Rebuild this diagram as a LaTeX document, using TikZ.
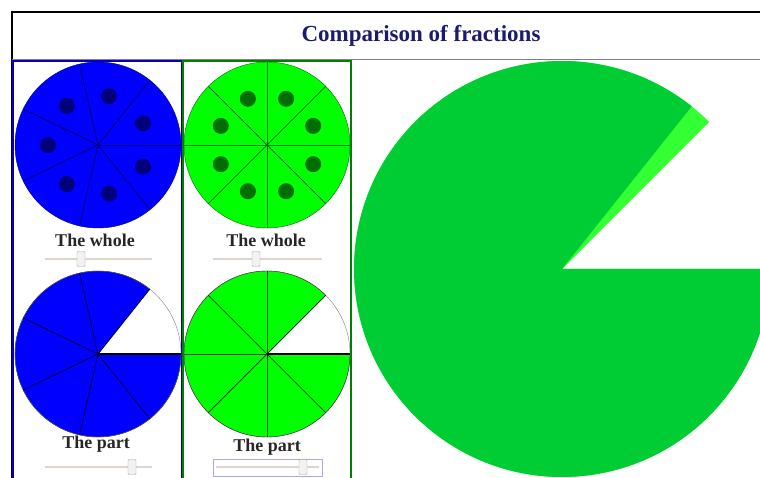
\documentclass[tikz,border=0pt]{standalone}
\usepackage{fontspec}
\setmainfont{Liberation Serif}
\usetikzlibrary{
  calc  % 坐标计算
}
\definecolor{titleblue}{HTML}{1A1A6E}
\definecolor{pieblue}{HTML}{0000FF}
\definecolor{dotblue}{HTML}{00007A}
\definecolor{piegreen}{HTML}{00FF00}
\definecolor{dotgreen}{HTML}{006E00}
\definecolor{bigdark}{HTML}{00CC33}
\definecolor{biglight}{HTML}{33FF33}
\definecolor{track}{HTML}{DDD6CF}
\tikzset{
  panel frame/.style={
    line width=1.3pt
  },
  sector line/.style={
    line width=0.9pt
  },
  pie label/.style={
    font=\fontsize{18}{21}\selectfont\bfseries,
    text=black!85,
    inner sep=0pt
  },
  slider track/.style={
    draw=track,
    line width=2.5pt
  },
  slider thumb/.style={
    draw=gray!70,
    fill=gray!10,
    rounded corners=1pt,
    minimum width=8pt,
    minimum height=15pt,
    inner sep=0pt
  },
  seed dot/.style={
    circle,
    inner sep=0pt,
    minimum size=16pt
  }
}

\begin{document}
\begin{tikzpicture}[x=1pt, y=1pt]
    \useasboundingbox (0,0) rectangle (760,477);
    \clip (0,0) rectangle (760,477);

    % 1. 外框与标题
    \draw[black, line width=2pt] (12,-5) -- (12,465) -- (770,465);
    \draw[gray, line width=1pt] (12,417) -- (770,417);
    \node[font=\fontsize{23}{27}\selectfont\bfseries, titleblue] (title) at (421,441) {Comparison of fractions};

    % 2. 两个面板的边框
    \draw[panel frame, draw=blue!75!black] (13,-5) rectangle (182,416);
    \draw[panel frame, draw=green!50!black] (183,-5) rectangle (351,416);

    % 3. 蓝色整体：7 等份
    \coordinate (BW) at (98,332);
    \fill[pieblue] (BW) circle (83);
    \foreach \k in {0,...,6}
      \draw[sector line, dotblue] (BW) -- ++({\k*360/7}:83);
    \foreach \k in {0,...,6}
      \node[seed dot, fill=dotblue] (bwdot\k) at ($(BW)+({(\k+0.5)*360/7}:50)$) {};
    \draw[dotblue] (BW) circle (83);
    \node[pie label] (bwlabel) at (95,237) {The whole};

    % 4. 绿色整体：8 等份
    \coordinate (GW) at (267,332);
    \fill[piegreen] (GW) circle (83);
    \foreach \k in {0,...,7}
      \draw[sector line, dotgreen] (GW) -- ++({\k*45}:83);
    \foreach \k in {0,...,7}
      \node[seed dot, fill=dotgreen] (gwdot\k) at ($(GW)+({(\k+0.5)*45}:50)$) {};
    \draw[dotgreen] (GW) circle (83);
    \node[pie label] (gwlabel) at (266,237) {The whole};

    % 5. 上方滑块
    \draw[slider track] (45,218) -- (152,218);
    \node[slider thumb] (bwthumb) at (81,218) {};
    \draw[slider track] (213,218) -- (322,218);
    \node[slider thumb] (gwthumb) at (256,218) {};

    % 6. 蓝色部分：6/7
    \coordinate (BP) at (98,123);
    \fill[pieblue] (BP) -- ++({360/7}:83) arc[start angle={360/7}, end angle=360, radius=83] -- cycle;
    \draw[gray] (BP) circle (83);
    \draw[black!80] (BP) ++({360/7}:83) arc[start angle={360/7}, end angle=360, radius=83];
    \foreach \k in {0,...,6}
      \draw[sector line, dotblue!70!black] (BP) -- ++({\k*360/7}:83);
    \draw[line width=1.5pt] (BP) -- ++(0:83);
    \node[pie label] (bplabel) at (96,33) {The part};

    % 7. 绿色部分：7/8
    \coordinate (GP) at (267,123);
    \fill[piegreen] (GP) -- ++(45:83) arc[start angle=45, end angle=360, radius=83] -- cycle;
    \draw[gray] (GP) circle (83);
    \draw[black!80] (GP) ++(45:83) arc[start angle=45, end angle=360, radius=83];
    \foreach \k in {0,...,7}
      \draw[sector line, dotgreen!60!black] (GP) -- ++({\k*45}:83);
    \draw[line width=1.5pt] (GP) -- ++(0:83);
    \node[pie label] (gplabel) at (267,30) {The part};

    % 8. 下方滑块（绿色的带焦点框）
    \draw[slider track] (45,10) -- (152,10);
    \node[slider thumb] (bpthumb) at (132,10) {};
    \draw[blue!35, line width=0.8pt] (213,1) rectangle (322,18);
    \draw[slider track] (216,10) -- (319,10);
    \node[slider thumb] (gpthumb) at (303,10) {};

    % 9. 右侧大饼图：7/8 与 6/7 重叠比较
    \coordinate (BIG) at (562,208);
    \fill[biglight] (BIG) -- ++(45:208) arc[start angle=45, end angle=360, radius=208] -- cycle;
    \fill[bigdark] (BIG) -- ++({360/7}:208) arc[start angle={360/7}, end angle=360, radius=208] -- cycle;
\end{tikzpicture}
\end{document}
